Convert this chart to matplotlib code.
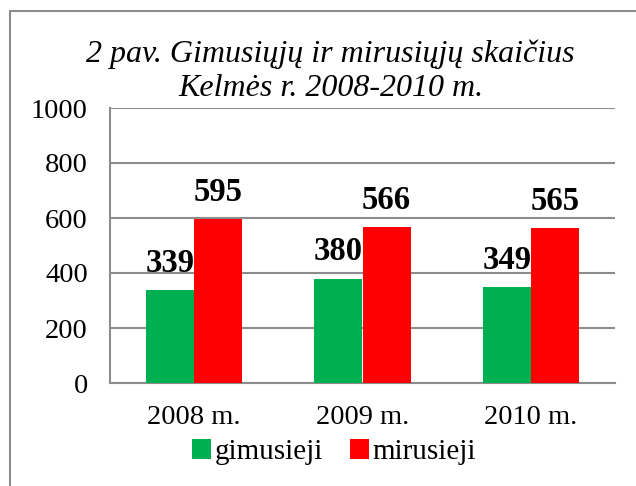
import numpy as np
import matplotlib.pyplot as plt
from matplotlib.patches import Rectangle

# data
years = ['2008 m.', '2009 m.', '2010 m.']
gimusieji = [339, 380, 349]
mirusieji = [595, 566, 565]

plt.rcParams['font.family'] = ['Liberation Serif', 'DejaVu Serif']

fig = plt.figure(figsize=(6.36, 4.86), dpi=100)
ax = fig.add_axes([110 / 636, 1 - 383 / 486, 505 / 636, 275 / 486])

# outer chart border (only top/left visible in the picture)
fig.patches.append(Rectangle((10 / 636, -0.1), 1.2, 1 - 11 / 486 + 0.1,
                             transform=fig.transFigure, fill=False,
                             edgecolor='#8c8c8c', linewidth=1.5))

x = np.arange(len(years))
w = 0.2857
b1 = ax.bar(x - w / 2, gimusieji, w, color='#00B050', label='gimusieji', zorder=3)
b2 = ax.bar(x + w / 2, mirusieji, w, color='#FF0000', label='mirusieji', zorder=3)

for bars in (b1, b2):
    for rect in bars:
        h = rect.get_height()
        ax.annotate(f'{h:.0f}', (rect.get_x() + rect.get_width() / 2, h),
                    xytext=(0, 13), textcoords='offset points',
                    ha='center', va='baseline', fontsize=23.5, fontweight='bold')

ax.set_xlim(-0.5, 2.5)
ax.set_ylim(0, 1000)
ax.set_yticks(range(0, 1001, 200))
ax.set_xticks(x)
ax.set_xticklabels(years)
ax.tick_params(length=0, labelsize=20.5)
ax.tick_params(axis='x', pad=16)
ax.tick_params(axis='y', pad=16)
ax.grid(axis='y', color='#8c8c8c', linewidth=1.5, zorder=0)
for s in ('top', 'right'):
    ax.spines[s].set_visible(False)
for s in ('left', 'bottom'):
    ax.spines[s].set_color('#8c8c8c')
    ax.spines[s].set_linewidth(1.5)

fig.text(330 / 636, 1 - 62 / 486, '2 pav. Gimusiųjų ir mirusiųjų skaičius',
         ha='center', va='baseline', fontsize=23, style='italic')
fig.text(331 / 636, 1 - 96 / 486, 'Kelmės r. 2008-2010 m.',
         ha='center', va='baseline', fontsize=23, style='italic')

fig.legend(loc='center', bbox_to_anchor=(334 / 636, 1 - 452 / 486), ncol=2,
           frameon=False, fontsize=21, handlelength=0.65, handleheight=0.7,
           handletextpad=0.15, columnspacing=0.9)

fig.savefig('out.png', dpi=100)
